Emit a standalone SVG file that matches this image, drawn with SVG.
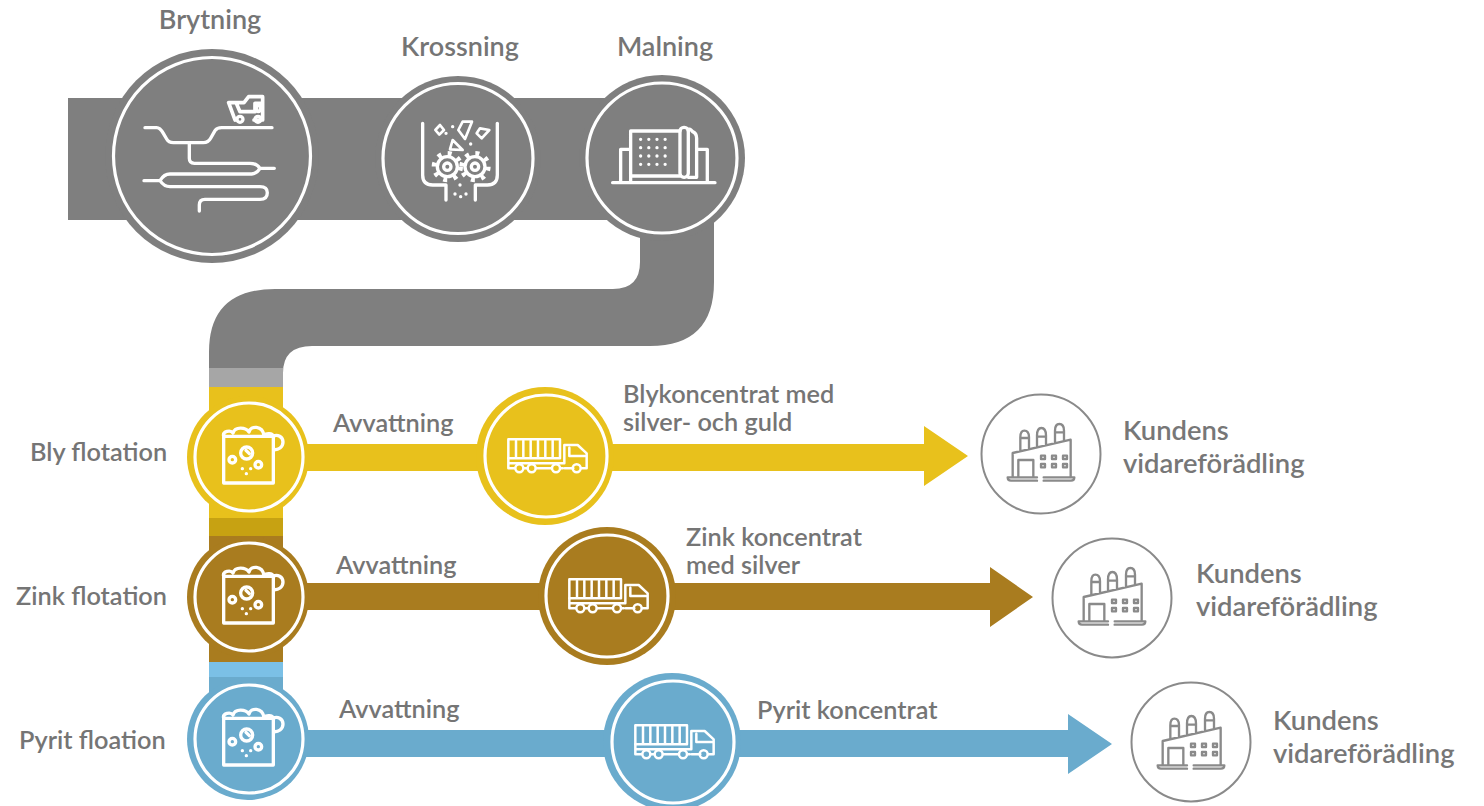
<svg xmlns="http://www.w3.org/2000/svg" xmlns:xlink="http://www.w3.org/1999/xlink" width="1484" height="806" viewBox="0 0 1484 806">
<style>
text{font-family:Lato,"Liberation Sans",sans-serif;fill:#757575;font-weight:600;font-size:25.300px}
.h{font-size:27px}
.k{font-size:27.400px;fill:#777}
.ring{fill:none;stroke:#fff;stroke-width:3.2}
.ic{fill:none;stroke:#fff;stroke-width:10;stroke-linecap:round;stroke-linejoin:round}
.t{stroke-width:7.500}
.f{fill:none;stroke:#8a8a8a;stroke-width:7;stroke-linejoin:round;stroke-linecap:round}
.fc{fill:#fff;stroke:#8a8a8a;stroke-width:2}
.gr{fill:#7f7f7f}.ye{fill:#e8c11c}.br{fill:#a97c1f}.bl{fill:#6aabcd}
</style>
<defs>
<g id="flot" class="ic">
<path d="M-76 -62V78H73V-62ZM-76 -62C-80 -78 -55 -82 -48 -72C-42 -92 -10 -90 0 -75C5 -95 40 -95 45 -65C52 -72 70 -72 73 -62M73 -62C85 -70 102 -60 102 -45C102 -30 88 -20 73 -22"/>
<circle cx="-7" cy="-12" r="18"/><path d="M-9 -20L1 -10"/>
<circle cx="-50" cy="8" r="10"/><circle cx="28" cy="23" r="10"/>
<path d="M-20 35h.1M5 35h.1M-8 50h.1"/>
</g>
<g id="truck" class="ic t">
<path d="M-113 -50H42V7H-113ZM-90 -45V2M-68 -45V2M-46 -45V2M-24 -45V2M-2 -45V2M20 -45V2"/>
<path d="M-113 7V22H55V-33H95L122 -8V37H106M82 37H56M-113 22V37H-95M-65 37H-56M-30 37H16M45 37H50M70 -25V0H116"/>
<circle cx="-80" cy="37" r="12"/><circle cx="-43" cy="37" r="12"/><circle cx="30" cy="37" r="12"/><circle cx="92" cy="37" r="12"/>
</g>
<g id="factory">
<path class="f" d="M-100 70H-12M8 70H100Q100 80 90 80H8M-12 80H-90Q-100 80 -100 70M-85 68V-3L89 -43V68M-68 68V18H-23V68M-62 -10V-50Q-62 -70 -50 -70Q-36 -70 -36 -50V-15M-62 -48H-36M-12 -22V-55Q-12 -78 1 -78Q15 -78 15 -55V-27M-12 -52H15M42 -36V-70Q42 -90 55 -90Q69 -90 69 -70V-42M42 -65H69"/>
<path class="f" d="M0 5h12v10h-12zM33 5h12v10h-12zM66 5h12v10h-12zM0 30h12v10h-12zM33 30h12v10h-12zM66 30h12v10h-12z"/>
</g>
</defs>
<g id="connectors">
<path class="gr" d="M68 98H640V220H68Z"/>
<path class="gr" d="M640 215V262Q640 289 613 289H275Q209 289 209 352V370H283V373Q283 346 312 346H650Q714 346 714 282V215Z"/>
<rect x="209" y="368" width="74" height="19" fill="#a6a6a6"/>
<rect class="ye" x="209" y="387" width="74" height="131"/>
<rect x="209" y="518" width="74" height="18" fill="#c7a212"/>
<rect class="br" x="209" y="536" width="74" height="126"/>
<rect x="209" y="662" width="74" height="16" fill="#7bc0e6"/>
<rect class="bl" x="209" y="677" width="74" height="60"/>
<path class="ye" d="M290 444H924V426L968 456L924 486V471H290Z"/>
<path class="br" d="M290 583H990V567L1033 597L990 627V610H290Z"/>
<path class="bl" d="M290 730H1068V714L1112 744L1068 774V757H290Z"/>
</g>
<g id="brytning">
<circle class="gr" cx="212" cy="156" r="107"/><circle class="ring" cx="212" cy="156" r="98.500"/>
<g transform="translate(60 40) scale(.3333)" class="ic">
<path d="M255 263H290Q300 263 310 280L320 297Q326 308 340 308H430Q445 308 452 295L465 272Q471 263 485 263H636"/>
<path d="M388 310V355Q388 370 403 370H570Q590 370 600 385H643M252 422H300Q312 402 330 402H575Q592 400 600 385M300 422Q312 440 330 440H600Q622 440 622 458Q622 478 600 478H435Q418 478 418 495V513"/>
<path d="M506 188H552L566 170H608V240H582M525 240L506 188M530 192L540 215H585V190H606" stroke-width="11"/>
<circle cx="540" cy="238" r="9"/><circle cx="594" cy="238" r="9"/><ellipse cx="595" cy="205" rx="6" ry="10"/>
</g>
<text class="h" x="210" y="29" text-anchor="middle">Brytning</text>
</g>
<g id="krossning">
<circle class="gr" cx="458" cy="159" r="83"/><circle class="ring" cx="458" cy="158.500" r="75"/>
<g transform="translate(370 70) scale(.3333)" class="ic">
<path d="M158 160V315Q158 345 188 345H228V390M382 160V315Q382 345 352 345H316V390"/>
<circle cx="232" cy="290" r="30"/><circle cx="232" cy="290" r="11"/><circle cx="315" cy="290" r="30"/><circle cx="315" cy="290" r="11"/>
<circle cx="232" cy="290" r="40" stroke-width="14" stroke-linecap="butt" stroke-dasharray="12 19.400"/>
<circle cx="315" cy="290" r="40" stroke-width="14" stroke-linecap="butt" stroke-dasharray="12 19.400"/>
<path d="M210 165L222 180L208 194L196 180ZM278 155H306L285 207L265 180ZM330 175L358 180L335 205L320 190ZM248 210L278 240L240 238Z" stroke-width="8"/>
<path d="M248 170h.1M228 190h.1M302 222h.1M270 345h.1M255 372h.1M288 372h.1M272 380h.1"/>
</g>
<text class="h" x="460" y="56" text-anchor="middle">Krossning</text>
</g>
<g id="malning">
<circle class="gr" cx="662" cy="158" r="83"/><circle class="ring" cx="662" cy="158" r="75"/>
<g transform="translate(370 70) scale(.3333)" class="ic">
<path d="M728 338H1035M752 335V238H782M782 335V183H930M782 318H930M980 238H1012V335M955 182Q957 172 968 185Q980 190 980 205V322H955"/>
<rect x="930" y="172" width="25" height="150" rx="12"/>
<path d="M812 208H910M812 233H910M812 258H910M812 283H910" stroke-dasharray="0 24.500" stroke-width="10"/>
</g>
<text class="h" x="665" y="56" text-anchor="middle">Malning</text>
</g>
<g id="bly-flotation">
<circle class="ye" cx="248" cy="457" r="61"/><circle class="ring" cx="249" cy="457" r="54"/>
<use xlink:href="#flot" href="#flot" transform="translate(249 457) scale(.3333)"/>
<text x="30" y="461">Bly flotation</text>
<text x="333" y="432">Avvattning</text>
</g>
<g id="bly-truck">
<circle class="ye" cx="545" cy="456" r="69"/><circle class="ring" cx="546" cy="456" r="61"/>
<use xlink:href="#truck" href="#truck" transform="translate(546 456) scale(.3333)"/>
<text x="623" y="403">Blykoncentrat med</text><text x="623" y="431">silver- och guld</text>
</g>
<g id="bly-kund">
<circle class="fc" cx="1041" cy="454" r="59.500"/>
<use xlink:href="#factory" href="#factory" transform="translate(1041 454) scale(.3333)"/>
<text class="k" x="1123" y="440">Kundens</text><text class="k" x="1123" y="473">vidareförädling</text>
</g>
<g id="zink-flotation">
<circle class="br" cx="248" cy="597" r="61"/><circle class="ring" cx="249" cy="597" r="54"/>
<use xlink:href="#flot" href="#flot" transform="translate(249 597) scale(.3333)"/>
<text x="16" y="605">Zink flotation</text>
<text x="336" y="574">Avvattning</text>
</g>
<g id="zink-truck">
<circle class="br" cx="607" cy="596" r="69"/><circle class="ring" cx="607" cy="596" r="61"/>
<use xlink:href="#truck" href="#truck" transform="translate(607 596) scale(.3333)"/>
<text x="686" y="546">Zink koncentrat</text><text x="686" y="574">med silver</text>
</g>
<g id="zink-kund">
<circle class="fc" cx="1112" cy="598" r="59.500"/>
<use xlink:href="#factory" href="#factory" transform="translate(1112 598) scale(.3333)"/>
<text class="k" x="1196" y="583">Kundens</text><text class="k" x="1196" y="616">vidareförädling</text>
</g>
<g id="pyrit-floation">
<circle class="bl" cx="248" cy="739" r="61"/><circle class="ring" cx="249" cy="739" r="54"/>
<use xlink:href="#flot" href="#flot" transform="translate(249 739) scale(.3333)"/>
<text x="19" y="749">Pyrit floation</text>
<text x="339" y="718">Avvattning</text>
</g>
<g id="pyrit-truck">
<circle class="bl" cx="672" cy="742" r="69"/><circle class="ring" cx="673" cy="742" r="61"/>
<use xlink:href="#truck" href="#truck" transform="translate(673 742) scale(.3333)"/>
<text x="757" y="719">Pyrit koncentrat</text>
</g>
<g id="pyrit-kund">
<circle class="fc" cx="1191" cy="742" r="59.500"/>
<use xlink:href="#factory" href="#factory" transform="translate(1191 742) scale(.3333)"/>
<text class="k" x="1273" y="730">Kundens</text><text class="k" x="1273" y="763">vidareförädling</text>
</g>
</svg>
